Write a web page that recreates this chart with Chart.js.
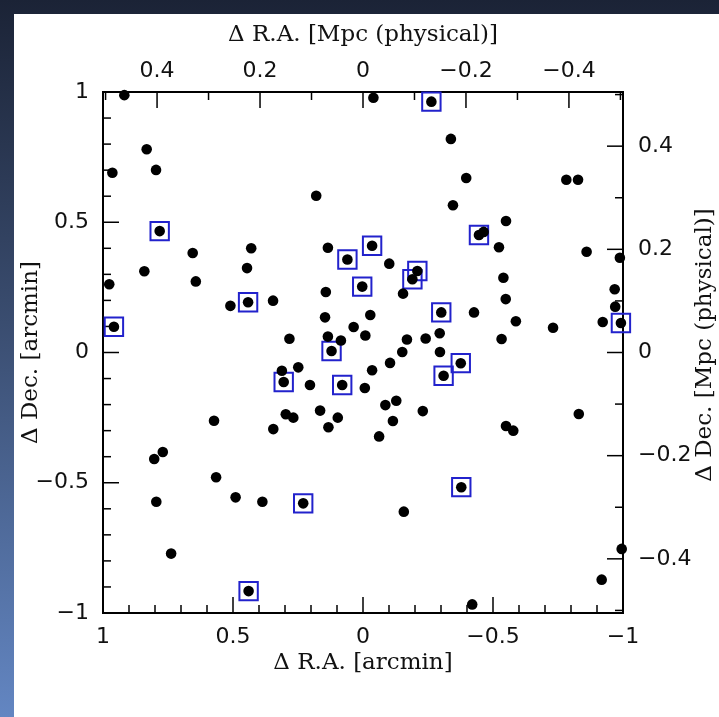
<!DOCTYPE html>
<html lang="en">

<head>
    <meta charset="UTF-8">
    <title>Galaxy positions</title>
    <script src="https://cdn.jsdelivr.net/npm/chart.js"></script>
    <style>
        body {
            margin: 0;
            padding: 0;
            width: 719px;
            height: 717px;
            overflow: hidden;
            background: linear-gradient(to bottom, #1b2336 0%, #3a4d70 45%, #6386c2 100%);
        }

        .panel {
            position: absolute;
            left: 14px;
            top: 14px;
            right: 0;
            bottom: 0;
            background: #fff;
        }

        .chart-container {
            position: absolute;
            left: 0;
            top: 0;
            width: 719px;
            height: 717px;
        }
    </style>
</head>

<body>
    <div class="panel"></div>
    <div class="chart-container">
        <canvas id="posChart"></canvas>
    </div>

    <script>
        // Galaxies without a box (offsets in arcmin)
        const plainRA = [0.918, 0.832, 0.964, 0.796, 0.180, 0.655, 0.430, 0.135, 0.841, 0.446, 0.976, 0.643,
            0.143, 0.510, 0.346, 0.146, 0.283, 0.135,
            -0.040, -0.338, -0.397, -0.782, -0.827, -0.346, -0.550, -0.464, -0.523, -0.860, -0.988, -0.101,
            -0.540, -0.154, -0.549, -0.968, -0.970, -0.427, -0.028, -0.588, -0.731, -0.922, 0.036, -0.009,
            0.085, -0.169, -0.241, -0.295, -0.533,
            -0.151, -0.296, -0.104, -0.035, -0.007, -0.086, -0.128, -0.230, -0.115, -0.062, -0.550, -0.578,
            -0.830, -0.157, -0.995, -0.918, -0.420,
            0.312, 0.249, 0.204, 0.297, 0.268, 0.165, 0.097, 0.133, 0.345, 0.573, 0.770, 0.803, 0.565, 0.795,
            0.490, 0.387, 0.738];
        const plainDec = [0.988, 0.780, 0.690, 0.701, 0.602, 0.382, 0.400, 0.402, 0.312, 0.324, 0.262, 0.273,
            0.232, 0.179, 0.199, 0.135, 0.053, 0.061,
            0.978, 0.820, 0.670, 0.663, 0.663, 0.565, 0.505, 0.463, 0.404, 0.387, 0.364, 0.341,
            0.287, 0.226, 0.205, 0.243, 0.176, 0.154, 0.144, 0.120, 0.095, 0.117, 0.098, 0.065,
            0.046, 0.050, 0.054, 0.074, 0.052,
            0.002, 0.002, -0.040, -0.068, -0.136, -0.202, -0.185, -0.225, -0.263, -0.322, -0.282, -0.300,
            -0.236, -0.611, -0.754, -0.872, -0.967,
            -0.070, -0.057, -0.125, -0.237, -0.250, -0.223, -0.250, -0.287, -0.294, -0.262, -0.382, -0.409,
            -0.479, -0.573, -0.556, -0.573, -0.772];

        // Boxed galaxies
        const markedRA = [-0.263, 0.782, -0.446, -0.035, 0.060, -0.209, -0.190, 0.003, 0.442, 0.958, -0.301,
            -0.992, 0.121, 0.305, 0.080, -0.376, -0.310, 0.230, -0.378, 0.440];
        const markedDec = [0.963, 0.466, 0.451, 0.410, 0.357, 0.313, 0.281, 0.253, 0.193, 0.099, 0.154,
            0.113, 0.006, -0.113, -0.125, -0.041, -0.089, -0.579, -0.517, -0.916];

        // Tick labels
        const arcminTicks = [1, 0.5, 0, -0.5, -1];
        const mpcTicks = [0.4, 0.2, 0, -0.2, -0.4];
        const mpcPerArcmin = 0.505;

        const toPoints = (xs, ys) => xs.map((x, i) => ({ x: x, y: ys[i] }));
        const fmt = v => v < 0 ? '\u2212' + Math.abs(v) : String(v);
        const setTicks = vals => scale => { scale.ticks = vals.map(v => ({ value: v })); };

        const tickFont = { family: 'DejaVu Sans', size: 22 };
        const titleFont = { family: 'DejaVu Serif', size: 23 };

        // Frame with inward ticks, plus the right title (reads bottom to top)
        const frameTicks = {
            id: 'frameTicks',
            beforeDatasetsDraw(chart) {
                const { ctx, chartArea: a, scales } = chart;
                const line = (x1, y1, x2, y2) => {
                    ctx.beginPath();
                    ctx.moveTo(x1, y1);
                    ctx.lineTo(x2, y2);
                    ctx.stroke();
                };
                ctx.save();
                ctx.strokeStyle = '#000';
                ctx.lineWidth = 1.5;
                for (let i = -10; i <= 10; i++) {
                    const len = i % 5 === 0 ? 16 : 8;
                    const px = scales.x.getPixelForValue(i / 10);
                    line(px, a.bottom, px, a.bottom - len);
                    const py = scales.y.getPixelForValue(i / 10);
                    line(a.left, py, a.left + len, py);
                }
                for (let i = -5; i <= 5; i++) {
                    const len = i % 2 === 0 ? 16 : 8;
                    const px = scales.x2.getPixelForValue(i / 10);
                    line(px, a.top, px, a.top + len);
                    const py = scales.y2.getPixelForValue(i / 10);
                    line(a.right, py, a.right - len, py);
                }
                ctx.lineWidth = 2;
                ctx.strokeRect(a.left, a.top, a.right - a.left, a.bottom - a.top);
                ctx.restore();
            },
            afterDraw(chart) {
                const ctx = chart.ctx;
                ctx.save();
                ctx.translate(705, 345);
                ctx.rotate(-Math.PI / 2);
                ctx.font = '23px "DejaVu Serif"';
                ctx.fillStyle = '#111';
                ctx.textAlign = 'center';
                ctx.textBaseline = 'middle';
                ctx.fillText('\u0394 Dec. [Mpc (physical)]', 0, 0);
                ctx.restore();
            }
        };

        const data = {
            datasets: [
                {
                    label: 'galaxies',
                    data: toPoints(plainRA.concat(markedRA), plainDec.concat(markedDec)),
                    backgroundColor: '#000',
                    borderWidth: 0,
                    pointRadius: 5.3,
                    clip: false
                },
                {
                    label: 'marked',
                    data: toPoints(markedRA, markedDec),
                    pointStyle: 'rect',
                    pointRadius: 13,
                    backgroundColor: 'rgba(0,0,0,0)',
                    borderColor: '#2222cc',
                    borderWidth: 2,
                    clip: false
                }
            ]
        };

        const options = {
            responsive: true,
            maintainAspectRatio: false,
            animation: false,
            events: [],
            layout: { padding: 0 },
            plugins: {
                legend: { display: false },
                tooltip: { enabled: false }
            },
            scales: {
                x: {
                    type: 'linear',
                    position: 'bottom',
                    min: -1,
                    max: 1,
                    reverse: true,
                    afterBuildTicks: setTicks(arcminTicks),
                    afterFit: s => { s.height = 104; },
                    grid: { display: false, drawTicks: false },
                    border: { display: false },
                    ticks: { callback: fmt, font: tickFont, color: '#111', padding: 11, maxRotation: 0, autoSkip: false },
                    title: { display: true, text: '\u0394 R.A. [arcmin]', font: titleFont, color: '#111', padding: { top: 0, bottom: 40 } }
                },
                x2: {
                    type: 'linear',
                    position: 'top',
                    min: -mpcPerArcmin,
                    max: mpcPerArcmin,
                    reverse: true,
                    afterBuildTicks: setTicks(mpcTicks),
                    afterFit: s => { s.height = 92; },
                    grid: { display: false, drawTicks: false },
                    border: { display: false },
                    ticks: { callback: fmt, font: tickFont, color: '#111', padding: 8, maxRotation: 0, autoSkip: false },
                    title: { display: true, text: '\u0394 R.A. [Mpc (physical)]', font: titleFont, color: '#111', padding: { top: 21, bottom: 0 } }
                },
                y: {
                    type: 'linear',
                    position: 'left',
                    min: -1,
                    max: 1,
                    afterBuildTicks: setTicks(arcminTicks),
                    afterFit: s => { s.width = 103; },
                    grid: { display: false, drawTicks: false },
                    border: { display: false },
                    ticks: { callback: fmt, font: tickFont, color: '#111', padding: 14, autoSkip: false },
                    title: { display: true, text: '\u0394 Dec. [arcmin]', font: titleFont, color: '#111', padding: { top: 17, bottom: 0 } }
                },
                y2: {
                    type: 'linear',
                    position: 'right',
                    min: -mpcPerArcmin,
                    max: mpcPerArcmin,
                    afterBuildTicks: setTicks(mpcTicks),
                    afterFit: s => { s.width = 96; },
                    grid: { display: false, drawTicks: false },
                    border: { display: false },
                    ticks: { callback: fmt, font: tickFont, color: '#111', padding: 15, autoSkip: false }
                }
            }
        };

        const ctx = document.getElementById('posChart').getContext('2d');
        new Chart(ctx, {
            type: 'scatter',
            data: data,
            options: options,
            plugins: [frameTicks]
        });
    </script>
</body>

</html>
